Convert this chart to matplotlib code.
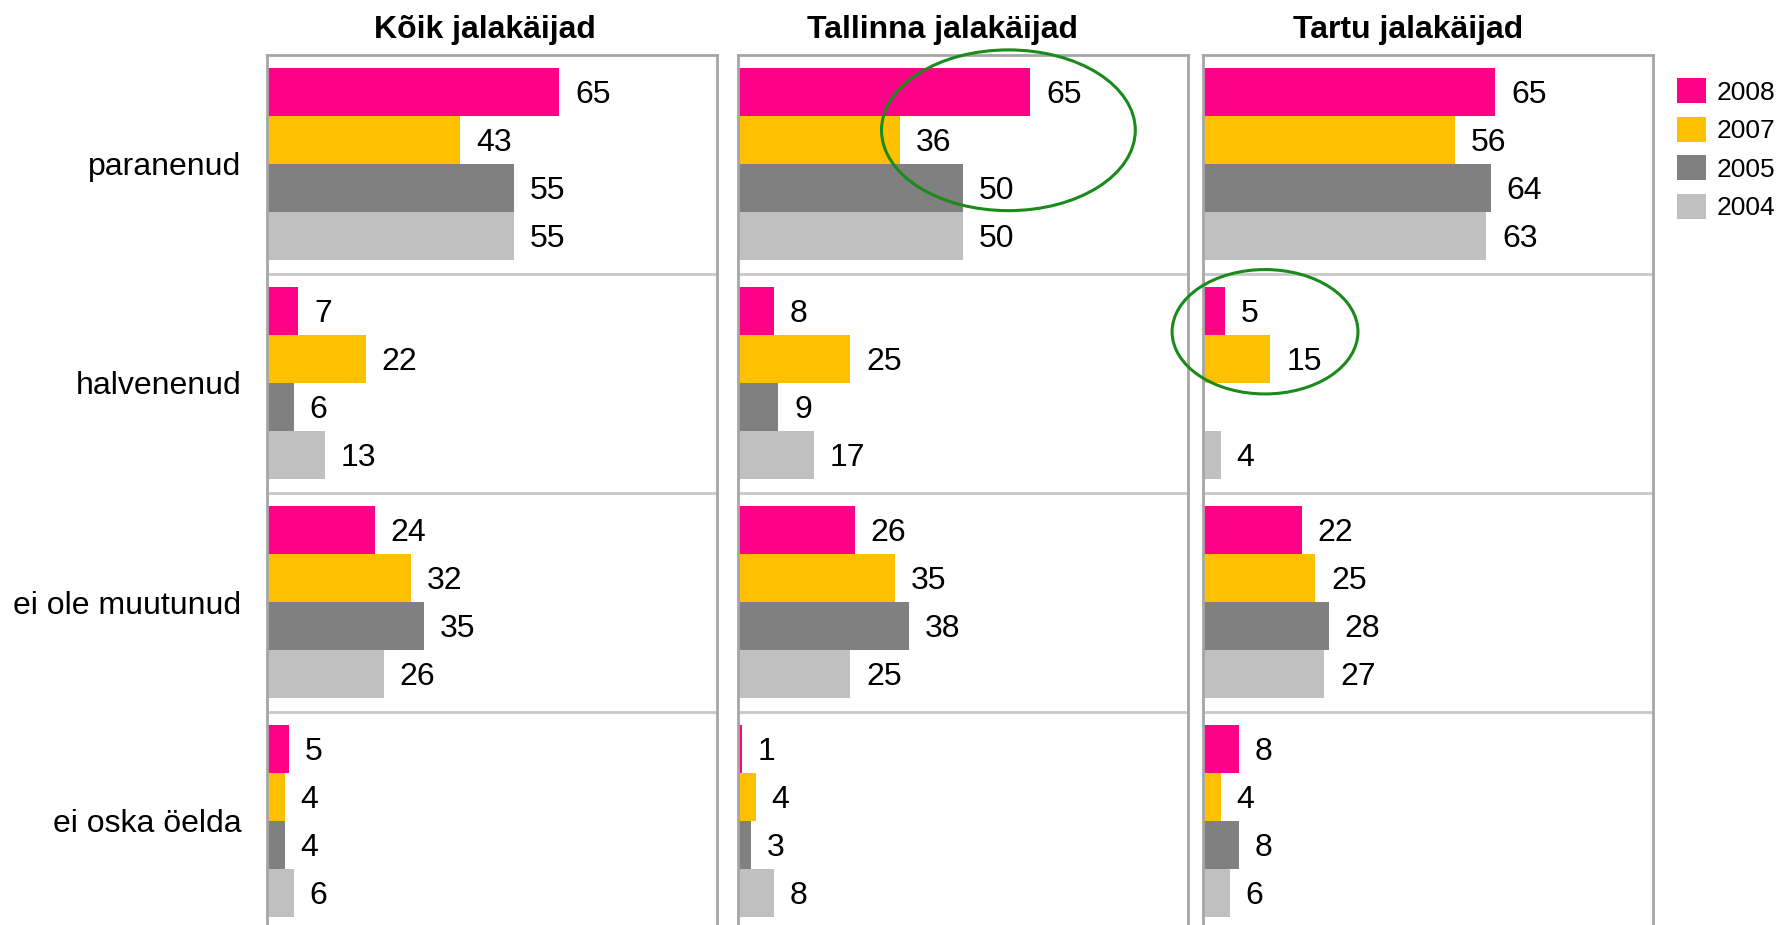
import matplotlib
matplotlib.use("Agg")
import matplotlib.pyplot as plt
from matplotlib.patches import Patch, Ellipse
import numpy as np

plt.rcParams["font.family"] = ["Liberation Sans", "DejaVu Sans"]

categories = ["paranenud", "halvenenud", "ei ole muutunud", "ei oska öelda"]
years = ["2008", "2007", "2005", "2004"]
colors = ["#FF0088", "#FFC000", "#808080", "#C0C0C0"]

panel_titles = ["Kõik jalakäijad", "Tallinna jalakäijad", "Tartu jalakäijad"]

# values per category, in order 2008, 2007, 2005, 2004
koik = [[65, 43, 55, 55], [7, 22, 6, 13], [24, 32, 35, 26], [5, 4, 4, 6]]
tallinna = [[65, 36, 50, 50], [8, 25, 9, 17], [26, 35, 38, 25], [1, 4, 3, 8]]
tartu = [[65, 56, 64, 63], [5, 15, None, 4], [22, 25, 28, 27], [8, 4, 8, 6]]
panels = [koik, tallinna, tartu]

W, H = 1779, 925
fig = plt.figure(figsize=(W / 100, H / 100), dpi=100)

lefts = [266.6, 737.5, 1202.7]
title_x = [0.484, 0.456, 0.456]
ax_w = 450
top_px, bot_px = 54.5, 930.5

bar_h = 0.22
offsets = np.array([-0.33, -0.11, 0.11, 0.33])
fs = 23

axes = []
for i, (data, title) in enumerate(zip(panels, panel_titles)):
    ax = fig.add_axes([lefts[i] / W, 1 - bot_px / H, ax_w / W, (bot_px - top_px) / H])
    axes.append(ax)
    for c, row in enumerate(data):
        for k, v in enumerate(row):
            if v is None:
                continue
            y = c + 0.5 + offsets[k]
            ax.barh(y, v, height=bar_h, color=colors[k], linewidth=0)
            ax.annotate(str(v), (v, y), xytext=(16, -3), textcoords="offset pixels",
                        va="center", ha="left", fontsize=fs)
    for sep in range(1, len(categories)):
        ax.axhline(sep, color="#C8C8C8", lw=2)
    ax.set_xlim(0, 100)
    ax.set_ylim(len(categories), 0)
    ax.set_xticks([])
    for s in ["left", "right", "top"]:
        ax.spines[s].set_color("#A6A6A6")
        ax.spines[s].set_linewidth(2)
    ax.spines["bottom"].set_visible(False)
    ax.set_title(title, fontsize=fs, fontweight="bold", pad=12, x=title_x[i])
    if i == 0:
        ax.set_yticks(np.arange(len(categories)) + 0.5)
        ax.set_yticklabels(categories, fontsize=fs)
        ax.tick_params(axis="y", length=0, pad=18)
    else:
        ax.set_yticks([])

# green highlight rings
axes[1].add_patch(Ellipse((60.2, 0.346), 56.4, 0.734, fill=False,
                          edgecolor="#1A8A1A", lw=2.2, clip_on=False, zorder=5))
axes[2].add_patch(Ellipse((13.85, 1.266), 41.3, 0.568, fill=False,
                          edgecolor="#1A8A1A", lw=2.2, clip_on=False, zorder=5))

handles = [Patch(facecolor=c, edgecolor="none") for c in colors]
fig.legend(handles, years, loc="upper left", bbox_to_anchor=(1677 / W, 1 - 78 / H),
           frameon=False, fontsize=19, handlelength=1.1, handleheight=1.1,
           handletextpad=0.4, labelspacing=0.45, borderpad=0, borderaxespad=0)

fig.savefig("out.png", dpi=100)
